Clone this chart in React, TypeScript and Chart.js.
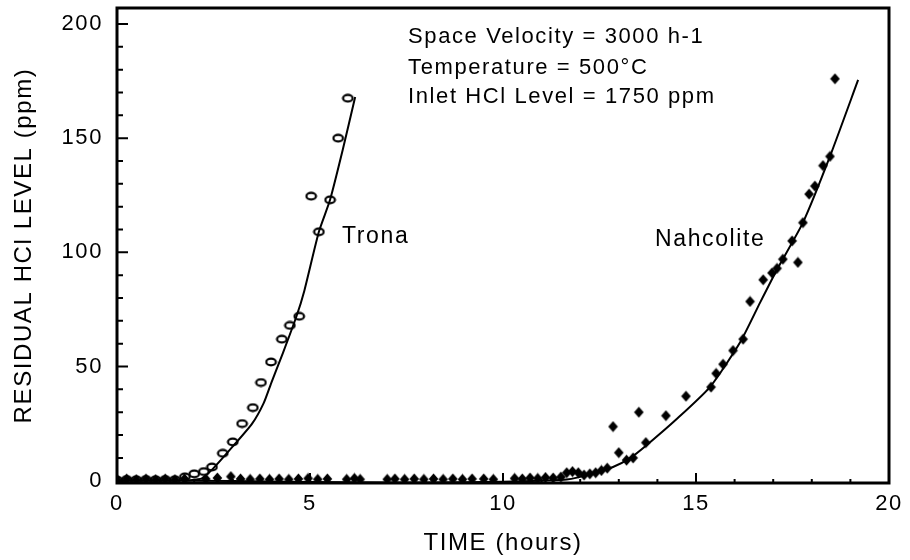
import React, { useEffect, useRef } from 'react';
import { Chart, registerables } from 'chart.js';

Chart.register(...registerables);

// ---- Data ----
const tronaTime = [0, 0.25, 0.5, 0.75, 1.0, 1.25, 1.5, 1.76, 2.0, 2.25, 2.46, 2.74, 3.0, 3.24, 3.52, 3.73, 3.99, 4.27, 4.48, 4.72, 5.03, 5.23, 5.52, 5.73, 5.98];
const tronaHCl = [0.3, 0.5, 0.4, 0.5, 0.4, 0.5, 0.4, 1.7, 3, 4, 6, 12, 17, 25, 32, 43, 52, 62, 68, 72, 124.6, 109, 123, 150, 167.5];

const tronaFitTime = [1.8, 2.2, 2.5, 3.0, 3.5, 3.8, 4.0, 4.3, 4.65, 4.85, 5.23, 5.52, 5.85, 6.17];
const tronaFitHCl = [0, 1, 5.5, 15, 25, 34, 43, 56, 72, 83, 109, 123, 145, 168];

const nahTime = [0, 0.25, 0.5, 0.75, 1.0, 1.25, 1.5, 1.75, 2.3, 2.6, 2.95, 3.2, 3.45, 3.7, 3.95, 4.2, 4.45, 4.7, 4.95, 5.2, 5.45, 5.95, 6.15, 6.3, 7.0, 7.2, 7.45, 7.7, 7.95, 8.2, 8.45, 8.7, 8.95, 9.2, 9.5, 9.75, 10.3, 10.5, 10.7, 10.9, 11.1, 11.3, 11.5, 11.65, 11.8, 11.95, 12.1, 12.25, 12.4, 12.55, 12.7, 12.85, 13.0, 13.2, 13.37, 13.52, 13.7, 14.22, 14.74, 15.39, 15.52, 15.7, 15.96, 16.22, 16.4, 16.74, 16.97, 17.1, 17.25, 17.49, 17.64, 17.77, 17.93, 18.08, 18.29, 18.47, 18.6];
const nahHCl = [0.5, 0.8, 0.5, 0.8, 0.5, 0.8, 0.5, 0.8, 0.8, 1.2, 1.8, 0.8, 0.6, 0.8, 0.6, 0.8, 0.6, 0.8, 1.0, 0.6, 0.8, 0.6, 1.0, 0.6, 0.6, 0.8, 0.6, 0.8, 0.6, 0.8, 0.6, 0.8, 0.6, 0.8, 0.8, 0.6, 1.0, 0.8, 1.2, 1.0, 1.4, 1.2, 1.6, 3.5, 4, 3.5, 2.5, 3.0, 3.5, 4.5, 5.5, 23.7, 12.3, 9, 10, 30, 16.7, 28.5, 37, 41, 47, 51, 57, 62, 78.5, 88, 91, 93, 97, 105, 95.6, 113, 125.5, 129, 138, 142, 176];

const nahFitTime = [0, 2, 4, 6, 8, 10, 11, 11.65, 12.3, 12.85, 13.3, 13.75, 14.5, 15.36, 16.14, 16.66, 17.1, 17.77, 18.47, 19.2];
const nahFitHCl = [0, 0, -0.3, -0.7, -0.8, -0.5, 0, 0.5, 3, 6, 10, 16, 27, 41, 60.5, 78, 92.5, 113, 142, 175.5];

const xTickLabels = [0, 5, 10, 15, 20];
const yTickLabels = [0, 50, 100, 150, 200];
const xMinorTicks = [1, 2, 3, 4, 6, 7, 8, 9, 11, 12, 13, 14, 16, 17, 18, 19];
const yMinorTicks = [10, 20, 30, 40, 60, 70, 80, 90, 110, 120, 130, 140, 160, 170, 180, 190];

const conditionLines = ['Space Velocity = 3000 h-1', 'Temperature = 500°C', 'Inlet HCl Level = 1750 ppm'];
const conditionTime = 7.54;
const conditionHCl = [194.3, 180.7, 168];
const seriesLabels = ['Trona', 'Nahcolite'];
const seriesLabelTime = [5.83, 13.94];
const seriesLabelHCl = [106.7, 105.4];

const FONT = "'Liberation Sans', Arial, Helvetica, sans-serif";

function zip(xs: number[], ys: number[]) {
  return xs.map((x, i) => ({ x, y: ys[i] }));
}

function makeEllipse(): HTMLCanvasElement {
  const c = document.createElement('canvas');
  c.width = 13;
  c.height = 10;
  const g = c.getContext('2d')!;
  g.strokeStyle = '#000';
  g.lineWidth = 2.2;
  g.beginPath();
  g.ellipse(6.5, 5, 4.8, 3.3, 0, 0, Math.PI * 2);
  g.stroke();
  return c;
}

function makeDiamond(): HTMLCanvasElement {
  const c = document.createElement('canvas');
  c.width = 11;
  c.height = 12;
  const g = c.getContext('2d')!;
  g.fillStyle = '#000';
  g.beginPath();
  g.moveTo(5.5, 0.5);
  g.lineTo(10.3, 6);
  g.lineTo(5.5, 11.5);
  g.lineTo(0.7, 6);
  g.closePath();
  g.fill();
  return c;
}

const framePlugin = {
  id: 'frameAndText',
  beforeDraw(chart: any) {
    (chart.ctx as any).letterSpacing = '1.6px';
  },
  afterDatasetsDraw(chart: any) {
    const ctx = chart.ctx as CanvasRenderingContext2D;
    const { left, right, top, bottom } = chart.chartArea;
    const xs = chart.scales.x;
    const ys = chart.scales.y;
    ctx.save();
    ctx.strokeStyle = '#000';
    ctx.lineWidth = 2;
    ctx.beginPath();
    xTickLabels.forEach((v) => {
      const px = xs.getPixelForValue(v);
      ctx.moveTo(px, bottom);
      ctx.lineTo(px, bottom - 10);
    });
    xMinorTicks.forEach((v) => {
      const px = xs.getPixelForValue(v);
      ctx.moveTo(px, bottom);
      ctx.lineTo(px, bottom - 4);
    });
    yTickLabels.forEach((v) => {
      const py = ys.getPixelForValue(v);
      ctx.moveTo(left, py);
      ctx.lineTo(left + 11, py);
    });
    yMinorTicks.forEach((v) => {
      const py = ys.getPixelForValue(v);
      ctx.moveTo(left, py);
      ctx.lineTo(left + 6, py);
    });
    ctx.stroke();
    ctx.lineWidth = 3;
    ctx.strokeRect(left, top, right - left, bottom - top);

    ctx.fillStyle = '#000';
    ctx.font = `22px ${FONT}`;
    (ctx as any).letterSpacing = '1.6px';
    ctx.textAlign = 'left';
    ctx.textBaseline = 'middle';
    conditionLines.forEach((t, i) => {
      ctx.fillText(t, xs.getPixelForValue(conditionTime), ys.getPixelForValue(conditionHCl[i]));
    });
    ctx.font = `23px ${FONT}`;
    seriesLabels.forEach((t, i) => {
      ctx.fillText(t, xs.getPixelForValue(seriesLabelTime[i]), ys.getPixelForValue(seriesLabelHCl[i]));
    });
    ctx.restore();
  },
};

export default function App() {
  const ref = useRef<HTMLCanvasElement | null>(null);

  useEffect(() => {
    if (!ref.current) return;
    const ellipse = makeEllipse();
    const diamond = makeDiamond();
    const chart = new Chart(ref.current, {
      type: 'scatter',
      data: {
        datasets: [
          {
            label: 'Trona fit',
            data: zip(tronaFitTime, tronaFitHCl),
            showLine: true,
            borderColor: '#000',
            borderWidth: 2,
            pointRadius: 0,
            tension: 0.2,
            fill: false,
          },
          {
            label: 'Nahcolite fit',
            data: zip(nahFitTime, nahFitHCl),
            showLine: true,
            borderColor: '#000',
            borderWidth: 2,
            pointRadius: 0,
            tension: 0.2,
            fill: false,
          },
          {
            label: 'Nahcolite',
            data: zip(nahTime, nahHCl),
            showLine: false,
            pointStyle: diamond as any,
            pointRadius: 5,
          },
          {
            label: 'Trona',
            data: zip(tronaTime, tronaHCl),
            showLine: false,
            pointStyle: ellipse as any,
            pointRadius: 5,
          },
        ],
      },
      options: {
        responsive: false,
        animation: false,
        devicePixelRatio: 1,
        layout: { padding: { top: 8, right: 21, left: 0, bottom: 0 } },
        plugins: {
          legend: { display: false },
          tooltip: { enabled: false },
        },
        scales: {
          x: {
            type: 'linear',
            min: 0,
            max: 20,
            grid: { display: false, drawTicks: false },
            border: { display: false },
            afterBuildTicks: (s: any) => {
              s.ticks = xTickLabels.map((v) => ({ value: v }));
            },
            afterFit: (s: any) => {
              s.height = 77;
              s.paddingLeft = 0;
              s.paddingRight = 0;
            },
            ticks: {
              color: '#000',
              padding: 8,
              maxRotation: 0,
              font: { family: FONT, size: 22 },
            },
            title: {
              display: true,
              text: 'TIME (hours)',
              color: '#000',
              padding: { top: 0, bottom: 2 },
              font: { family: FONT, size: 24 },
            },
          },
          y: {
            type: 'linear',
            min: -1,
            max: 207,
            grid: { display: false, drawTicks: false },
            border: { display: false },
            afterBuildTicks: (s: any) => {
              s.ticks = yTickLabels.map((v) => ({ value: v }));
            },
            afterFit: (s: any) => {
              s.width = 117;
              s.paddingTop = 0;
              s.paddingBottom = 0;
            },
            ticks: {
              color: '#000',
              padding: 14,
              font: { family: FONT, size: 22 },
            },
            title: {
              display: true,
              text: 'RESIDUAL HCl LEVEL (ppm)',
              color: '#000',
              padding: { top: 10, bottom: 0 },
              font: { family: FONT, size: 24 },
            },
          },
        },
      },
      plugins: [framePlugin],
    });
    return () => chart.destroy();
  }, []);

  return (
    <div style={{ position: 'absolute', left: 0, top: 0, width: 910, height: 560, background: '#fff' }}>
      <canvas ref={ref} width={910} height={560} />
    </div>
  );
}
